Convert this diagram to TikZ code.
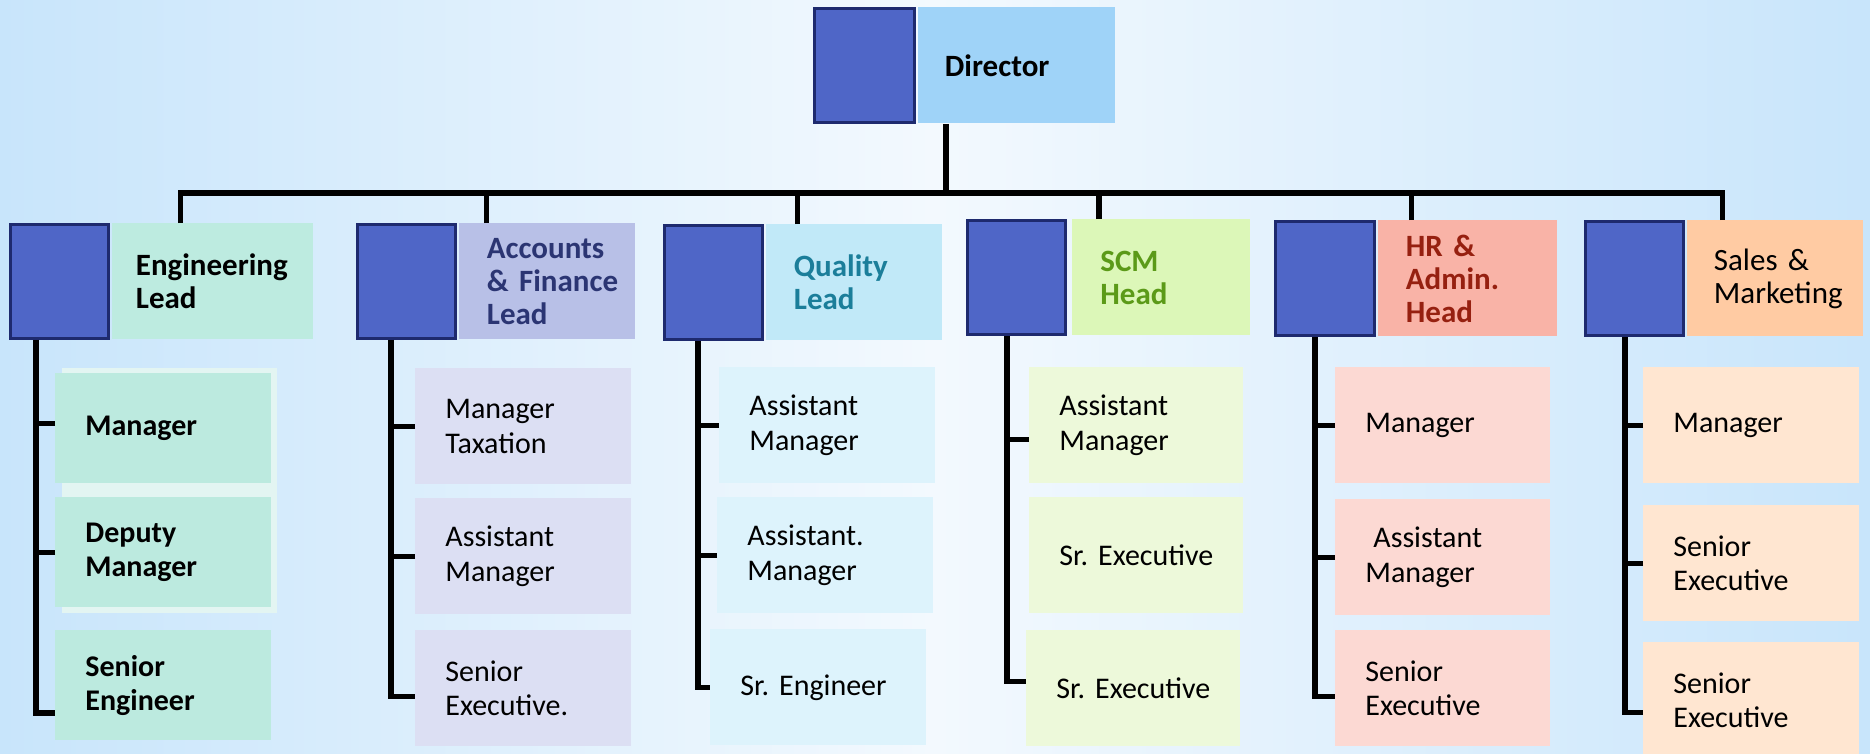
\documentclass[tikz,border=0pt]{standalone}
\usepackage{fontspec}
\setmainfont{Carlito}
\usepackage{xcolor}
\usepackage{tikz}
\usetikzlibrary{positioning}
\hyphenpenalty=10000
\exhyphenpenalty=10000
\frenchspacing

\definecolor{sqfill}{HTML}{4F66C7}
\definecolor{sqline}{HTML}{1E2A6E}
\definecolor{bgside}{HTML}{C8E5FB}
\definecolor{bgmid}{HTML}{F3F9FE}
\definecolor{dirfill}{HTML}{9FD3F8}
\definecolor{engfill}{HTML}{BDEBE0}
\definecolor{engsub}{HTML}{BCEADF}
\definecolor{engghost}{HTML}{E3F5F2}
\definecolor{accfill}{HTML}{B8C0E7}
\definecolor{accsub}{HTML}{DCDFF3}
\definecolor{accink}{HTML}{2B3573}
\definecolor{qafill}{HTML}{C1E9F8}
\definecolor{qasub}{HTML}{DDF3FC}
\definecolor{qaink}{HTML}{1B7E9A}
\definecolor{scmfill}{HTML}{DCF7B8}
\definecolor{scmsub}{HTML}{EDF9DA}
\definecolor{scmink}{HTML}{5B9A18}
\definecolor{hrfill}{HTML}{F9B3A7}
\definecolor{hrsub}{HTML}{FCD9D3}
\definecolor{hrink}{HTML}{962010}
\definecolor{salesfill}{HTML}{FFCBA3}
\definecolor{salessub}{HTML}{FFE6D1}

\begin{document}
\begin{tikzpicture}[x=0.5pt, y=-0.5pt,
    sq/.style={rectangle, draw=sqline, line width=1.5pt, fill=sqfill, minimum width=49pt, minimum height=57pt, inner sep=0pt, anchor=north west},
    lead/.style={rectangle, fill=#1, minimum height=58pt, text width=60pt, inner xsep=14pt, inner ysep=0pt, align=left, font=\fontsize{15.5}{16.5}\selectfont\bfseries},
    sub/.style={rectangle, fill=#1, anchor=north west, minimum height=58pt, text width=78pt, inner xsep=15pt, inner ysep=0pt, align=left, font=\fontsize{15}{17.3}\selectfont},
    conn/.style={draw=black, line width=2.8pt}]

    \useasboundingbox (0,0) rectangle (1870,754);
    \fill[left color=bgside, right color=bgside, middle color=bgmid] (0,0) rectangle (1870,754);

    % top
    \node[sq, minimum width=50pt] (dirsq) at (813,7) {};
    \node[lead=dirfill, right=0.75pt of dirsq, text width=71.5pt, inner xsep=13.5pt] (dir) {Director};

    % second row
    \node[sq] (engsq) at (9,223) {};
    \node[lead=engfill, right=0.75pt of engsq, text width=76.5pt, inner xsep=12pt] (eng) {Engineering\\Lead};
    \node[sq] (accsq) at (356,223) {};
    \node[lead=accfill, right=0.75pt of accsq, text=accink] (acc) {Accounts\\\mbox{\& Finance}\\Lead};
    \node[sq] (qasq) at (663,224) {};
    \node[lead=qafill, right=0.75pt of qasq, text=qaink] (qa) {Quality\\Lead};
    \node[sq] (scmsq) at (966,219) {};
    \node[lead=scmfill, right=2.5pt of scmsq, text=scmink, text width=61pt] (scm) {SCM\\Head};
    \node[sq, minimum width=49.5pt] (hrsq) at (1274,220) {};
    \node[lead=hrfill, right=0.75pt of hrsq, text=hrink, text width=61.5pt] (hr) {\mbox{HR \&}\\Admin.\\Head};
    \node[sq] (salessq) at (1584,220) {};
    \node[lead=salesfill, right=0.75pt of salessq, font=\fontsize{15.5}{16.5}\selectfont, inner xsep=13.5pt, text width=61pt] (sales) {\mbox{Sales \&}\\Marketing};

    % third row
    \fill[engghost] (62,368) rectangle (277,613);
    \node[sub=engsub, minimum height=55pt, font=\fontsize{15}{17.3}\selectfont\bfseries] (eng1) at (55,373) {Manager};
    \node[sub=engsub, minimum height=55pt, font=\fontsize{15}{17.3}\selectfont\bfseries] (eng2) at (55,497) {Deputy\\Manager};
    \node[sub=engsub, minimum height=55pt, font=\fontsize{15}{17.3}\selectfont\bfseries] (eng3) at (55,630) {Senior\\Engineer};

    \node[sub=accsub] (acc1) at (415,368) {Manager\\Taxation};
    \node[sub=accsub] (acc2) at (415,498) {Assistant\\Manager};
    \node[sub=accsub] (acc3) at (415,630) {Senior\\Executive.};

    \node[sub=qasub] (qa1) at (719,367) {Assistant\\Manager};
    \node[sub=qasub] (qa2) at (717,497) {Assistant.\\Manager};
    \node[sub=qasub] (qa3) at (710,629) {\mbox{Sr. Engineer}};

    \node[sub=scmsub, text width=77pt] (scm1) at (1029,367) {Assistant\\Manager};
    \node[sub=scmsub, text width=77pt] (scm2) at (1029,497) {\mbox{Sr. Executive}};
    \node[sub=scmsub, text width=77pt] (scm3) at (1026,630) {\mbox{Sr. Executive}};

    \node[sub=hrsub, text width=77.5pt] (hr1) at (1335,367) {Manager};
    \node[sub=hrsub, text width=77.5pt] (hr2) at (1335,499) {\hspace*{4pt}Assistant\\Manager};
    \node[sub=hrsub, text width=77.5pt] (hr3) at (1335,630) {Senior\\Executive};

    \node[sub=salessub] (sales1) at (1643,367) {Manager};
    \node[sub=salessub] (sales2) at (1643,505) {Senior\\Executive};
    \node[sub=salessub] (sales3) at (1643,642) {Senior\\Executive};

    % connectors
    \coordinate (hub) at (946,193);
    \draw[conn] (dir.south -| hub) -- (hub);
    \draw[conn] ([xshift=34.5pt]eng.north west) |- (hub);
    \draw[conn] ([xshift=14pt]acc.north west) |- (hub);
    \draw[conn] ([xshift=16pt]qa.north west) |- (hub);
    \draw[conn] ([xshift=13.5pt]scm.north west) |- (hub);
    \draw[conn] ([xshift=17pt]hr.north west) |- (hub);
    \draw[conn] ([xshift=18pt]sales.north west) |- (hub);

    \coordinate (engsp) at (36,0);
    \draw[conn] (engsq.south -| engsp) |- ([yshift=-13.75pt]eng3.west);
    \draw[conn] ([yshift=2.5pt]eng1.west) -- ([yshift=2.5pt]eng1.west -| engsp);
    \draw[conn] (eng2.west) -- (eng2.west -| engsp);

    \coordinate (accsp) at (391,0);
    \draw[conn] (accsq.south -| accsp) |- ([yshift=-4pt]acc3.west);
    \draw[conn] (acc1.west) -- (acc1.west -| accsp);
    \draw[conn] (acc2.west) -- (acc2.west -| accsp);

    \coordinate (qasp) at (698,0);
    \draw[conn] (qasq.south -| qasp) |- (qa3.west);
    \draw[conn] (qa1.west) -- (qa1.west -| qasp);
    \draw[conn] (qa2.west) -- (qa2.west -| qasp);

    \coordinate (scmsp) at (1007,0);
    \draw[conn] (scmsq.south -| scmsp) |- ([yshift=3.5pt]scm3.west);
    \draw[conn] ([yshift=-7pt]scm1.west) -- ([yshift=-7pt]scm1.west -| scmsp);

    \coordinate (hrsp) at (1315,0);
    \draw[conn] (hrsq.south -| hrsp) |- ([yshift=-4pt]hr3.west);
    \draw[conn] (hr1.west) -- (hr1.west -| hrsp);
    \draw[conn] (hr2.west) -- (hr2.west -| hrsp);

    \coordinate (salessp) at (1625,0);
    \draw[conn] (salessq.south -| salessp) |- ([yshift=-6pt]sales3.west);
    \draw[conn] (sales1.west) -- (sales1.west -| salessp);
    \draw[conn] (sales2.west) -- (sales2.west -| salessp);

\end{tikzpicture}
\end{document}
